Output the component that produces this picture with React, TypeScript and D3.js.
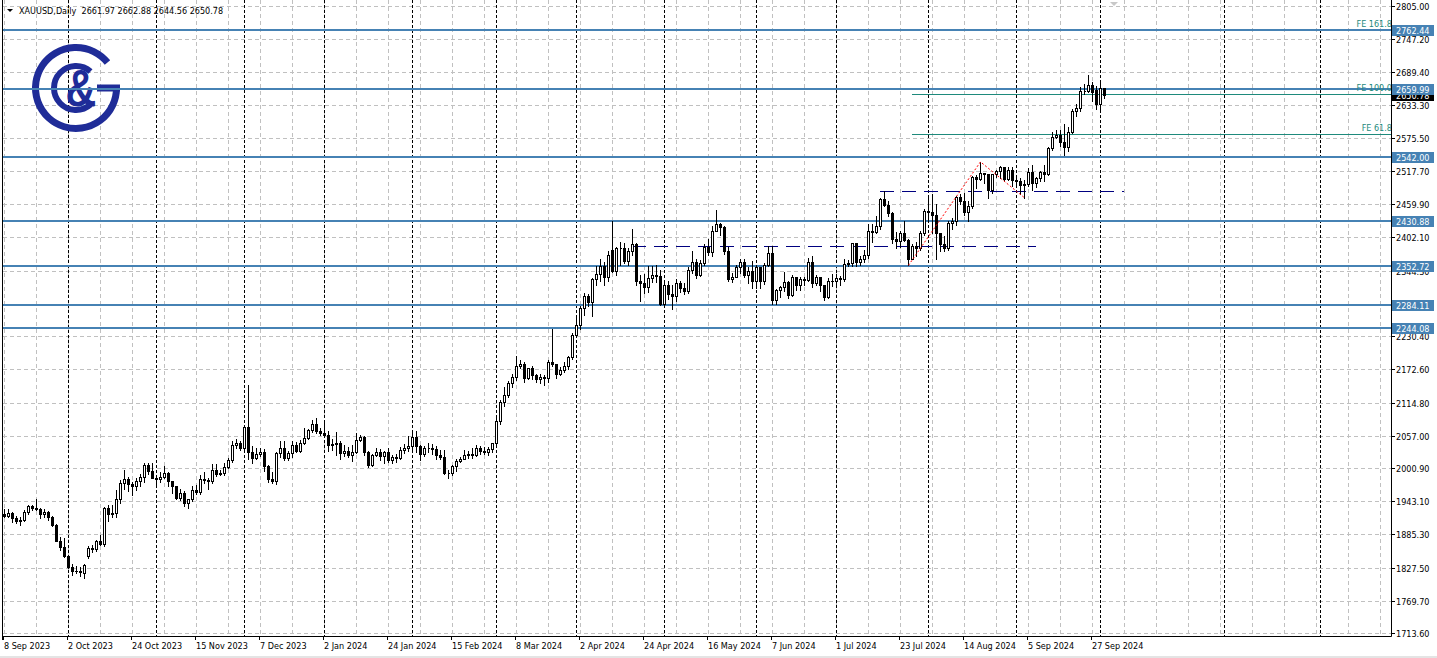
import { useEffect, useRef } from 'react'
import * as d3 from 'd3'

// XAUUSD daily bars, 8 Sep 2023 .. 2 Oct 2024 (one line per month)
const opens = [
  1920, 1918, 1922, 1913, 1908, 1910, 1924, 1934, 1931, 1930, 1920, 1925, 1915, 1901, 1874, 1864,
  1848, 1828, 1822, 1821, 1818, 1848, 1862, 1860, 1874, 1868, 1932, 1920, 1923, 1947, 1974, 1981, 1973, 1970, 1979, 1985, 2006, 1996,
  1983, 1982, 1985, 1992, 1978, 1969, 1949, 1958, 1940, 1946, 1963, 1959, 1981, 1980, 1978, 1998, 1990, 1992, 2002, 2014, 2041, 2044,
  2036, 2072, 2029, 2019, 2025, 2028, 2004, 1982, 1979, 2027, 2036, 2019, 2027, 2040, 2031, 2045, 2053, 2067, 2077, 2065,
  2062, 2059, 2041, 2043, 2045, 2027, 2030, 2024, 2028, 2049, 2055, 2028, 2006, 2023, 2029, 2022, 2029, 2014, 2020, 2018, 2032, 2036,
  2039, 2054, 2039, 2025, 2035, 2035, 2034, 2024, 2020, 1992, 1992, 2004, 2013, 2017, 2024, 2026, 2024, 2036, 2031, 2029, 2034,
  2044, 2083, 2115, 2128, 2148, 2159, 2179, 2182, 2158, 2175, 2162, 2155, 2160, 2157, 2186, 2181, 2165, 2172, 2179, 2194,
  2233, 2250, 2280, 2300, 2290, 2329, 2339, 2352, 2333, 2380, 2344, 2383, 2383, 2361, 2379, 2391, 2327, 2322, 2316, 2332, 2337, 2335,
  2286, 2320, 2303, 2301, 2323, 2314, 2309, 2346, 2360, 2336, 2358, 2386, 2376, 2414, 2425, 2420, 2378, 2329, 2334, 2351, 2360, 2337, 2343,
  2327, 2350, 2326, 2355, 2375, 2294, 2311, 2316, 2324, 2302, 2333, 2319, 2329, 2328, 2360, 2322, 2334, 2320, 2298, 2327,
  2326, 2332, 2330, 2356, 2357, 2392, 2359, 2364, 2371, 2414, 2411, 2422, 2469, 2458, 2445, 2400, 2396, 2409, 2397, 2365, 2387, 2384, 2410,
  2448, 2446, 2442, 2409, 2390, 2383, 2427, 2431, 2472, 2465, 2447, 2456, 2507, 2503, 2514, 2512, 2484, 2512, 2517, 2524, 2504, 2520,
  2502, 2500, 2493, 2495, 2516, 2497, 2506, 2516, 2512, 2558, 2577, 2581, 2569, 2559, 2586, 2622, 2628, 2657, 2657, 2668, 2658,
  2634, 2661.97,
]
const highs = [
  1930, 1929, 1925, 1917, 1915, 1928, 1937, 1936, 1947, 1932, 1929, 1926, 1917, 1903, 1880, 1879,
  1850, 1833, 1830, 1828, 1834, 1865, 1867, 1876, 1885, 1933, 1937, 1936, 1962, 1980, 1997, 1985, 1976, 1983, 1990, 2009, 2010, 2010,
  1987, 1993, 2004, 1993, 1979, 1970, 1965, 1961, 1947, 1970, 1971, 1988, 1993, 1984, 2008, 2007, 1997, 2009, 2018, 2048, 2052, 2047,
  2075, 2146, 2039, 2036, 2035, 2034, 2006, 1993, 2029, 2047, 2048, 2030, 2047, 2046, 2049, 2071, 2068, 2084, 2088, 2070,
  2079, 2065, 2051, 2064, 2047, 2040, 2037, 2040, 2062, 2059, 2056, 2031, 2025, 2036, 2034, 2030, 2036, 2024, 2025, 2037, 2042, 2056,
  2065, 2066, 2040, 2039, 2044, 2042, 2039, 2033, 2032, 1998, 2006, 2016, 2020, 2032, 2030, 2035, 2041, 2039, 2038, 2038, 2045,
  2088, 2120, 2141, 2152, 2165, 2195, 2189, 2185, 2175, 2179, 2165, 2164, 2163, 2188, 2242, 2182, 2176, 2185, 2196, 2236,
  2266, 2282, 2305, 2304, 2331, 2353, 2365, 2359, 2378, 2431, 2386, 2395, 2392, 2384, 2417, 2392, 2337, 2338, 2352, 2352, 2354, 2346,
  2326, 2326, 2320, 2330, 2326, 2323, 2351, 2378, 2364, 2362, 2391, 2400, 2422, 2450, 2427, 2422, 2385, 2340, 2355, 2364, 2364, 2351, 2361,
  2354, 2351, 2357, 2388, 2387, 2313, 2318, 2342, 2326, 2336, 2334, 2334, 2334, 2366, 2369, 2337, 2334, 2320, 2331, 2339,
  2338, 2335, 2365, 2363, 2392, 2393, 2370, 2381, 2425, 2425, 2439, 2470, 2483, 2466, 2446, 2412, 2413, 2431, 2399, 2391, 2394, 2413, 2451,
  2470, 2477, 2461, 2410, 2404, 2431, 2436, 2475, 2477, 2479, 2465, 2509, 2510, 2533.7, 2515, 2513, 2513, 2520, 2527, 2525, 2524, 2524,
  2507, 2505, 2502, 2523, 2529, 2507, 2517, 2529, 2560, 2586, 2590, 2589, 2600, 2595, 2625, 2635, 2664, 2670, 2685, 2672, 2666,
  2673, 2662.88,
]
const lows = [
  1915, 1915, 1907, 1905, 1901, 1909, 1921, 1927, 1927, 1913, 1915, 1911, 1899, 1873, 1858, 1846,
  1827, 1815, 1818, 1813, 1810, 1845, 1855, 1857, 1866, 1865, 1909, 1915, 1915, 1940, 1965, 1961, 1953, 1962, 1970, 1977, 1990, 1983,
  1970, 1977, 1983, 1969, 1958, 1947, 1945, 1935, 1932, 1944, 1955, 1956, 1975, 1965, 1974, 1987, 1988, 1989, 2001, 2011, 2035, 2032,
  2030, 2016, 2010, 2017, 2022, 1995, 1976, 1975, 1973, 2020, 2015, 2015, 2020, 2028, 2029, 2043, 2052, 2064, 2062, 2058,
  2055, 2030, 2033, 2024, 2017, 2021, 2020, 2013, 2027, 2047, 2024, 2002, 2005, 2022, 2015, 2010, 2011, 2009, 2012, 2016, 2027, 2030,
  2031, 2029, 2014, 2021, 2028, 2025, 2017, 2016, 1990, 1984, 1989, 1995, 2011, 2016, 2019, 2019, 2021, 2025, 2025, 2024, 2029,
  2038, 2077, 2109, 2125, 2141, 2154, 2175, 2150, 2155, 2156, 2150, 2149, 2146, 2150, 2179, 2157, 2163, 2168, 2173, 2191,
  2228, 2243, 2268, 2282, 2266, 2320, 2327, 2319, 2326, 2342, 2337, 2355, 2358, 2355, 2372, 2320, 2292, 2305, 2308, 2325, 2325, 2285,
  2281, 2295, 2277, 2291, 2308, 2303, 2305, 2340, 2332, 2335, 2354, 2372, 2369, 2413, 2407, 2373, 2326, 2325, 2333, 2341, 2334, 2322, 2315,
  2315, 2314, 2321, 2352, 2287, 2286, 2299, 2309, 2296, 2301, 2311, 2310, 2320, 2326, 2316, 2319, 2309, 2293, 2297, 2318,
  2318, 2319, 2326, 2352, 2353, 2353, 2354, 2359, 2367, 2394, 2410, 2416, 2456, 2439, 2392, 2384, 2385, 2396, 2353.6, 2364, 2369, 2380, 2406,
  2429, 2410, 2364, 2379, 2379, 2381, 2416, 2423, 2460, 2441, 2431, 2454, 2488, 2502, 2497, 2470, 2480, 2507, 2506, 2500, 2502, 2492,
  2493, 2478, 2471.2, 2491, 2485, 2490, 2500, 2500, 2510, 2555, 2575, 2561, 2546, 2553, 2584, 2614, 2623, 2651, 2655, 2640, 2625,
  2624, 2644.56,
]
const closes = [
  1918, 1922, 1913, 1908, 1910, 1924, 1934, 1931, 1930, 1920, 1925, 1915, 1901, 1874, 1864, 1848,
  1828, 1822, 1821, 1820, 1832, 1862, 1860, 1874, 1868, 1932, 1920, 1923, 1947, 1974, 1981, 1973, 1970, 1979, 1985, 2006, 1996, 1983,
  1982, 1985, 1992, 1978, 1969, 1949, 1958, 1940, 1946, 1963, 1959, 1981, 1980, 1978, 1998, 1990, 1992, 2002, 2014, 2041, 2044, 2036,
  2072, 2029, 2019, 2025, 2028, 2004, 1982, 1979, 2027, 2036, 2019, 2027, 2040, 2031, 2045, 2053, 2067, 2077, 2065, 2062,
  2059, 2041, 2043, 2045, 2027, 2030, 2024, 2028, 2049, 2055, 2028, 2006, 2023, 2029, 2022, 2029, 2014, 2020, 2018, 2032, 2036, 2039,
  2054, 2039, 2025, 2035, 2035, 2034, 2024, 2020, 1992, 1992, 2004, 2013, 2017, 2024, 2026, 2024, 2036, 2031, 2029, 2034, 2044,
  2083, 2115, 2128, 2148, 2159, 2179, 2182, 2158, 2175, 2162, 2155, 2160, 2157, 2186, 2181, 2165, 2172, 2179, 2194, 2233,
  2250, 2280, 2300, 2290, 2329, 2339, 2352, 2333, 2372, 2344, 2383, 2383, 2361, 2379, 2391, 2327, 2322, 2316, 2332, 2337, 2335, 2286,
  2320, 2303, 2301, 2323, 2314, 2309, 2346, 2360, 2336, 2358, 2386, 2376, 2414, 2425, 2420, 2378, 2329, 2334, 2351, 2360, 2337, 2343, 2327,
  2350, 2326, 2355, 2375, 2294, 2311, 2316, 2324, 2302, 2333, 2319, 2329, 2328, 2360, 2322, 2334, 2320, 2298, 2327, 2326,
  2332, 2330, 2356, 2357, 2392, 2359, 2364, 2371, 2414, 2411, 2422, 2469, 2458, 2445, 2400, 2396, 2409, 2397, 2365, 2387, 2384, 2410, 2448,
  2446, 2442, 2409, 2390, 2383, 2427, 2431, 2472, 2465, 2447, 2456, 2507, 2503, 2514, 2512, 2484, 2512, 2517, 2524, 2504, 2520, 2502,
  2500, 2493, 2495, 2516, 2497, 2506, 2516, 2512, 2558, 2577, 2581, 2569, 2559, 2586, 2622, 2628, 2657, 2657, 2668, 2655, 2634,
  2663, 2650.78,
]

const holidays = ['2023-12-25', '2024-01-01', '2024-03-29']
const dateLabels = [
  '8 Sep 2023', '2 Oct 2023', '24 Oct 2023', '15 Nov 2023', '7 Dec 2023', '2 Jan 2024',
  '24 Jan 2024', '15 Feb 2024', '8 Mar 2024', '2 Apr 2024', '24 Apr 2024', '16 May 2024',
  '7 Jun 2024', '1 Jul 2024', '23 Jul 2024', '14 Aug 2024', '5 Sep 2024', '27 Sep 2024',
]
const priceTicks = [
  2805.0, 2747.2, 2689.4, 2633.3, 2575.5, 2517.7, 2459.9, 2402.1, 2344.3, 2286.5,
  2230.4, 2172.6, 2114.8, 2057.0, 2000.9, 1943.1, 1885.3, 1827.5, 1769.7, 1713.6,
]
const levels = [2762.44, 2659.99, 2542.0, 2430.88, 2352.72, 2284.11, 2244.08]
// fibo expansion anchors: bar index, price
const feBars = [226, 244, 255]
const fePrices = [2353.6, 2533.7, 2471.2]
const feRatios = [61.8, 100.0, 161.8]
// dashed trend levels: [from bar, to bar, price]
const dashLines = [
  [157, 258, 2388],
  [219, 280, 2483.5],
]
const futureSeparators = [305, 329]

export default function App() {
  const ref = useRef<SVGSVGElement | null>(null)

  useEffect(() => {
    const svg = d3.select(ref.current)
    svg.selectAll('*').remove()
    const font = "'DejaVu Sans Condensed', 'DejaVu Sans', Tahoma, sans-serif"
    const iso = d3.timeFormat('%Y-%m-%d')
    const lbl = d3.timeFormat('%-d %b %Y')

    const dates = d3.timeDay
      .range(new Date(2023, 8, 8), new Date(2024, 9, 3))
      .filter((d) => d.getDay() !== 0 && d.getDay() !== 6 && !holidays.includes(iso(d)))
    const n = Math.min(dates.length, closes.length)
    const bars = d3.range(n).map((i) => ({ date: dates[i], o: opens[i], h: highs[i], l: lows[i], c: closes[i] }))

    const right = 1391
    const bottom = 636
    const x = d3.scaleLinear().domain([0, 1]).range([4, 8])
    const y = d3.scaleLinear().domain([1713.6, 2805]).range([633, 6])
    const px = (i: number) => Math.round(x(i))
    const py = (p: number) => Math.round(y(p))

    svg.append('rect').attr('width', 1437).attr('height', 658).attr('fill', '#fff')
    svg.append('rect').attr('y', 656).attr('width', 1437).attr('height', 2).attr('fill', '#e4e4e4')

    svg.append('defs').append('clipPath').attr('id', 'plotclip')
      .append('rect').attr('x', 3).attr('y', 0).attr('width', right - 3).attr('height', bottom)
    const plot = svg.append('g').attr('clip-path', 'url(#plotclip)')

    // grid
    plot.append('g').selectAll('line').data(d3.range(0, 44)).join('line')
      .attr('x1', (k) => px(k * 8) + 0.5).attr('x2', (k) => px(k * 8) + 0.5)
      .attr('y1', 0).attr('y2', bottom)
      .attr('stroke', '#c0c0c0').attr('stroke-dasharray', '4,3').attr('shape-rendering', 'crispEdges')
    plot.append('g').selectAll('line').data(priceTicks).join('line')
      .attr('x1', 3).attr('x2', right)
      .attr('y1', (d) => py(d) + 0.5).attr('y2', (d) => py(d) + 0.5)
      .attr('stroke', '#c0c0c0').attr('stroke-dasharray', '4,3').attr('shape-rendering', 'crispEdges')

    // period separators
    const seps = d3.range(1, n).filter((i) => bars[i].date.getMonth() !== bars[i - 1].date.getMonth()).concat(futureSeparators)
    plot.append('g').selectAll('line').data(seps).join('line')
      .attr('x1', (i) => px(i) + 0.5).attr('x2', (i) => px(i) + 0.5)
      .attr('y1', 0).attr('y2', bottom)
      .attr('stroke', '#000').attr('stroke-dasharray', '3,2').attr('shape-rendering', 'crispEdges')

    // logo
    const logo = plot.append('g').attr('fill', 'none').attr('stroke', '#1f2c98')
    const cx = 76, cy = 88
    const outer = d3.path()
    outer.arc(cx, cy, 40.5, -0.68, -Math.PI * 2, true)
    logo.append('path').attr('d', outer.toString()).attr('stroke-width', 7)
    logo.append('rect').attr('x', 97).attr('y', 84.5).attr('width', 23).attr('height', 7).attr('fill', '#1f2c98').attr('stroke', 'none')
    const inner = d3.path()
    inner.arc(cx, cy, 22, -0.85, -Math.PI * 2 + 0.85, true)
    logo.append('path').attr('d', inner.toString()).attr('stroke-width', 6)
    logo.append('text').attr('transform', 'translate(81,106) scale(0.82,1)')
      .attr('text-anchor', 'middle').attr('font-family', "'Liberation Sans', Arial, sans-serif")
      .attr('font-weight', 'bold').attr('font-size', 52).attr('fill', '#1f2c98').attr('stroke', 'none').text('&')

    // fibo expansion levels
    const feLevels = feRatios.map((r) => fePrices[2] + (r / 100) * (fePrices[1] - fePrices[0]))
    plot.append('g').selectAll('line').data(feLevels).join('line')
      .attr('x1', px(feBars[0] + 1)).attr('x2', right)
      .attr('y1', (d) => py(d) + 0.5).attr('y2', (d) => py(d) + 0.5)
      .attr('stroke', '#1e8a7c').attr('shape-rendering', 'crispEdges')

    // horizontal levels
    plot.append('g').selectAll('line').data(levels).join('line')
      .attr('x1', 3).attr('x2', right)
      .attr('y1', (d) => py(d)).attr('y2', (d) => py(d))
      .attr('stroke', '#4682b4').attr('stroke-width', 2).attr('shape-rendering', 'crispEdges')

    plot.append('g').selectAll('text').data(feLevels).join('text')
      .attr('x', right + 1).attr('y', (d) => py(d) - 3)
      .attr('text-anchor', 'end').attr('font-family', font).attr('font-size', 9).attr('fill', '#1e8a7c')
      .text((d, i) => 'FE ' + feRatios[i].toFixed(1))

    // dashed levels
    plot.append('g').selectAll('line').data(dashLines).join('line')
      .attr('x1', (d) => px(d[0])).attr('x2', (d) => px(d[1]))
      .attr('y1', (d) => py(d[2]) + 0.5).attr('y2', (d) => py(d[2]) + 0.5)
      .attr('stroke', '#000080').attr('stroke-dasharray', '14,8').attr('shape-rendering', 'crispEdges')

    // candles
    const cg = plot.append('g').attr('shape-rendering', 'crispEdges')
    cg.selectAll('line').data(bars).join('line')
      .attr('x1', (d, i) => px(i) + 0.5).attr('x2', (d, i) => px(i) + 0.5)
      .attr('y1', (d) => py(d.h)).attr('y2', (d) => py(d.l) + 1)
      .attr('stroke', '#000')
    cg.selectAll('path.bull').data(bars.map((d, i) => ({ ...d, i })).filter((d) => d.c >= d.o)).join('path')
      .attr('class', 'bull')
      .attr('d', (d) => {
        const c = px(d.i), t = py(d.c), b = py(d.o)
        return `M${c - 0.5},${t + 0.5}H${c + 1.5}V${b + 0.5}H${c - 0.5}Z`
      })
      .attr('fill', '#fff').attr('stroke', '#000')
    cg.selectAll('rect.bear').data(bars.map((d, i) => ({ ...d, i })).filter((d) => d.c < d.o)).join('rect')
      .attr('class', 'bear')
      .attr('x', (d) => px(d.i) - 1).attr('width', 3)
      .attr('y', (d) => py(d.o)).attr('height', (d) => py(d.c) - py(d.o) + 1)
      .attr('fill', '#000')

    // fibo expansion trend
    const feLine = d3.line<number>().x((b) => px(b) + 0.5).y((b, i) => y(fePrices[i]))
    plot.append('path').attr('d', feLine(feBars)).attr('fill', 'none')
      .attr('stroke', '#ff0000').attr('stroke-dasharray', '2,2')

    // frame
    svg.append('line').attr('x1', 2.5).attr('x2', 2.5).attr('y1', 0).attr('y2', bottom + 4).attr('stroke', '#000')
    svg.append('line').attr('x1', right + 0.5).attr('x2', right + 0.5).attr('y1', 0).attr('y2', bottom + 0.5).attr('stroke', '#000')
    svg.append('line').attr('x1', 2.5).attr('x2', right + 0.5).attr('y1', bottom + 0.5).attr('y2', bottom + 0.5).attr('stroke', '#000')
    svg.append('path').attr('d', 'M1110,2L1118,2L1114,6Z').attr('fill', '#c8c8c8')

    // header
    svg.append('path').attr('d', 'M7,9L13,9L10,12Z').attr('fill', '#000')
    const last = bars[n - 1]
    svg.append('text').attr('x', 19).attr('y', 13.5).attr('font-family', font).attr('font-size', 9).attr('fill', '#000')
      .attr('xml:space', 'preserve')
      .text(`XAUUSD,Daily  ${last.o.toFixed(2)} ${last.h.toFixed(2)} ${last.l.toFixed(2)} ${last.c.toFixed(2)}`)

    // price axis
    const ax = svg.append('g').attr('font-family', font).attr('font-size', 9)
    ax.selectAll('line').data(priceTicks).join('line')
      .attr('x1', right).attr('x2', right + 4)
      .attr('y1', (d) => py(d) + 0.5).attr('y2', (d) => py(d) + 0.5).attr('stroke', '#000')
    ax.selectAll('text').data(priceTicks).join('text')
      .attr('x', right + 5).attr('y', (d) => py(d) + 3.5).attr('fill', '#000')
      .text((d) => d.toFixed(2))

    const cur = ax.append('g')
    cur.append('rect').attr('x', right + 1).attr('y', py(last.c) - 5).attr('width', 42).attr('height', 11).attr('fill', '#000')
    cur.append('text').attr('x', right + 5).attr('y', py(last.c) + 3.5).attr('fill', '#fff').text(last.c.toFixed(2))

    const lv = ax.append('g').selectAll('g').data(levels).join('g')
    lv.append('rect').attr('x', right + 1).attr('y', (d) => py(d) - 5).attr('width', 42).attr('height', 11).attr('fill', '#4682b4')
    lv.append('text').attr('x', right + 5).attr('y', (d) => py(d) + 3.5).attr('fill', '#fff').text((d) => d.toFixed(2))

    // time axis
    const labelBars = dateLabels.map((s) => bars.findIndex((b) => lbl(b.date) === s)).filter((i) => i >= 0)
    const tx = svg.append('g').attr('font-family', font).attr('font-size', 9)
    tx.selectAll('line').data(labelBars).join('line')
      .attr('x1', (i) => px(i) - 0.5).attr('x2', (i) => px(i) - 0.5)
      .attr('y1', bottom).attr('y2', bottom + 4).attr('stroke', '#000')
    tx.selectAll('text').data(labelBars).join('text')
      .attr('x', (i) => px(i)).attr('y', 649).attr('fill', '#000')
      .text((i) => lbl(bars[i].date))
  }, [])

  return (
    <svg
      ref={ref}
      width={1437}
      height={658}
      style={{ position: 'absolute', left: 0, top: 0, display: 'block' }}
    />
  )
}
